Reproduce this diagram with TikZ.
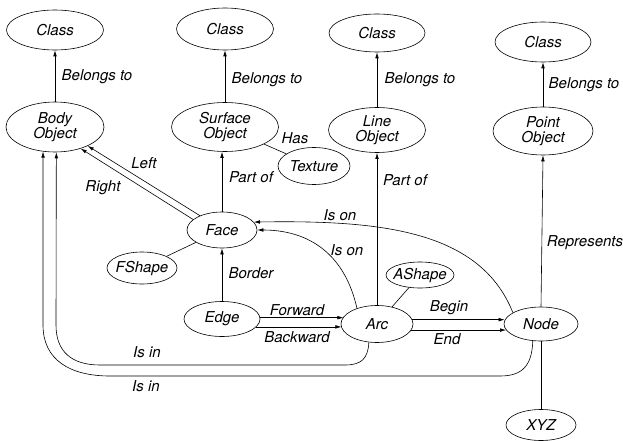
\documentclass[tikz,border=0pt]{standalone}
\usepackage{fontspec}
\setmainfont{TeX Gyre Heros}
\usetikzlibrary{shapes.geometric,arrows.meta}
\begin{document}
\begin{tikzpicture}[x=1pt,y=-1pt,
  ell/.style={ellipse,draw,line width=0.6pt,inner xsep=-15pt,inner ysep=-10pt,
    font=\fontsize{15}{15.5}\selectfont\itshape,align=center},
  lbl/.style={font=\fontsize{15}{15.5}\selectfont\itshape,inner sep=0pt},
  arr/.style={-{Latex[length=6pt,width=3.6pt]},line width=0.6pt},
  ln/.style={line width=0.6pt}]
\useasboundingbox (0,0) rectangle (623,441);
% nodes
\node[ell,minimum width=97pt,minimum height=40pt] (c1) at (55,30) {Class};
\node[ell,minimum width=97pt,minimum height=42pt] (c2) at (225,29) {Class};
\node[ell,minimum width=96pt,minimum height=38pt] (c3) at (377,33) {Class};
\node[ell,minimum width=96pt,minimum height=40pt] (c4) at (543,42) {Class};
\node[ell,minimum width=98pt,minimum height=50pt] (body) at (55,127) {Body\\Object};
\node[ell,minimum width=107pt,minimum height=49pt] (surf) at (225,127) {Surface\\Object};
\node[ell,minimum width=97pt,minimum height=45pt] (line) at (377,130) {Line\\Object};
\node[ell,minimum width=100pt,minimum height=48pt] (point) at (543,131) {Point\\Object};
\node[ell,minimum width=72pt,minimum height=37pt] (tex) at (314,166) {Texture};
\node[ell,minimum width=70pt,minimum height=36pt] (face) at (222,230) {Face};
\node[ell,minimum width=70pt,minimum height=32pt] (fsh) at (142,268) {FShape};
\node[ell,minimum width=68pt,minimum height=26pt] (ash) at (420,275) {AShape};
\node[ell,minimum width=76pt,minimum height=35pt] (edge) at (222,319) {Edge};
\node[ell,minimum width=72pt,minimum height=37pt] (arc) at (377,324) {Arc};
\node[ell,minimum width=74pt,minimum height=34pt] (node) at (541,324) {Node};
\node[ell,minimum width=70pt,minimum height=31pt] (xyz) at (541,425) {XYZ};
% belongs to
\draw[arr] (body.north) -- (c1.south);
\draw[arr] (surf.north) -- (c2.south);
\draw[arr] (line.north) -- (c3.south);
\draw[arr] (point.north) -- (c4.south);
\node[lbl] (b1) at (97,77) {Belongs to};
\node[lbl] (b2) at (267,80) {Belongs to};
\node[lbl] (b3) at (420,80) {Belongs to};
\node[lbl] (b4) at (584,85) {Belongs to};
% texture
\draw[ln] (surf) -- (tex);
\node[lbl] (has) at (295,138) {Has};
% part of
\draw[arr] (face.north) -- (face.north |- surf.south);
\node[lbl] (po1) at (251,177) {Part of};
\draw[arr] (arc.north) -- (line.south);
\node[lbl] (po2) at (405,180) {Part of};
% represents
\draw[arr] (node.north) -- (point.south);
\node[lbl] (rep) at (585,243) {Represents};
\draw[ln] (node.south) -- (xyz.north);
% left / right
\draw[arr] (face.147) -- (body.-30);
\draw[arr] (face.160) -- (body.-40);
\node[lbl] (left) at (144,163) {Left};
\node[lbl] (right) at (103,188) {Right};
% fshape, ashape
\draw[ln] (face) -- (fsh);
\draw[ln] (arc) -- (ash);
% border
\draw[arr] (edge.north) -- (edge.north |- face.south);
\node[lbl] (bord) at (251,273) {Border};
% forward / backward
\draw[arr] (edge.2) -- (arc.168 |- edge.2);
\draw[arr] (edge.-13) -- (arc.186 |- edge.-13);
\node[lbl] (fw) at (297,310) {Forward};
\node[lbl] (bw) at (297,337) {Backward};
% begin / end
\draw[arr] (arc.7) -- (node.174 |- arc.7);
\draw[arr] (arc.-10) -- (node.190 |- arc.-10);
\node[lbl] (beg) at (449,308) {Begin};
\node[lbl] (end) at (447,339) {End};
% is on
\draw[arr] (arc.142) .. controls (345,255) and (310,230) .. (face.east);
\draw[arr] (node.158) .. controls (480,230) and (380,220) .. (face.14);
\node[lbl] (ison1) at (340,215) {Is on};
\node[lbl] (ison2) at (347,250) {Is on};
% is in
\draw[arr] (arc.246) .. controls (368,359) and (361,365) .. (345,365) -- (100,365)
  .. controls (72,365) and (56,352) .. (56,325) -- (body.-87);
\draw[arr] (node.244) .. controls (532,366) and (522,376) .. (500,376) -- (110,376)
  .. controls (70,376) and (43,360) .. (43,325) -- (body.-116);
\node[lbl] (isin1) at (147,352) {Is in};
\node[lbl] (isin2) at (146,386) {Is in};
\end{tikzpicture}
\end{document}
